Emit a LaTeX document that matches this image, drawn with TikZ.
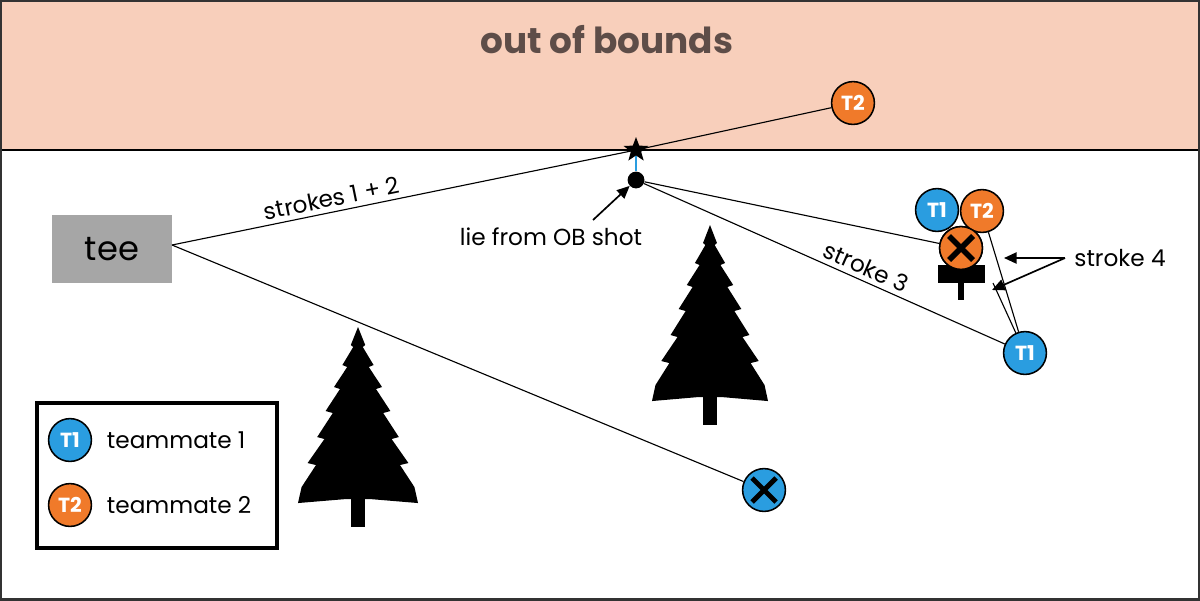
\documentclass[tikz,border=0pt]{standalone}
\usepackage{fontspec}
\setmainfont{Poppins}
\usetikzlibrary{shapes.geometric,arrows.meta,calc}
\definecolor{obfill}{HTML}{F8CFBB}
\definecolor{tblue}{HTML}{2A9DE0}
\definecolor{torange}{HTML}{F07A2A}
\definecolor{teegray}{HTML}{A6A6A6}
\definecolor{titlec}{HTML}{5E4D48}
\tikzset{
  disc/.style={circle,draw=black,line width=1.1pt,minimum size=1.07cm,inner sep=0pt,text=white,font=\fontsize{14.5}{14}\selectfont\bfseries},
  tone/.style={disc,fill=tblue},
  ttwo/.style={disc,fill=torange},
  lbl/.style={font=\fontsize{16.5}{19}\selectfont},
  ln/.style={line width=0.8pt},
  arr/.style={line width=1.2pt,-{Triangle[length=9pt,width=8pt]}},
  pics/tree/.style={code={
    \fill (-0.06,0.85) rectangle (0.06,1);
    \fill (0,0) -- (0.06,0.09) -- (0.04,0.1) -- (0.13,0.19) -- (0.09,0.2) -- (0.2,0.3) -- (0.15,0.31) -- (0.27,0.42) -- (0.21,0.43) -- (0.34,0.55) -- (0.28,0.56) -- (0.42,0.68) -- (0.35,0.69) -- (0.47,0.8) -- (0.5,0.88) -- (0.1,0.86) -- (-0.1,0.86) -- (-0.5,0.88) -- (-0.47,0.8) -- (-0.35,0.69) -- (-0.42,0.68) -- (-0.28,0.56) -- (-0.34,0.55) -- (-0.21,0.43) -- (-0.27,0.42) -- (-0.15,0.31) -- (-0.2,0.3) -- (-0.09,0.2) -- (-0.13,0.19) -- (-0.04,0.1) -- (-0.06,0.09) -- cycle;
  }}
}
\begin{document}
\begin{tikzpicture}[x=0.025cm,y=-0.025cm]
\useasboundingbox (0,0) rectangle (1200,600);
\fill[obfill] (0,0) rectangle (1200,150);
\draw[line width=1pt] (0,150) -- (1200,150);
\draw[line width=1.5pt,draw=black!80] (0.5,0.5) rectangle (1199.5,599.5);
\node[font=\fontsize{25.5}{30}\selectfont\bfseries,text=titlec] (title) at (607,40) {out of bounds};
% trees
\begin{scope}[shift={(358,327)},x=3cm,y=-5cm]\pic {tree};\end{scope}
\begin{scope}[shift={(710,225)},x=2.9cm,y=-5cm]\pic {tree};\end{scope}
% tee
\node[fill=teegray,minimum width=2.975cm,minimum height=1.7cm,font=\fontsize{24}{28}\selectfont] (tee) at (112,249) {tee};
\coordinate (teeR) at (172,245);
% nodes
\node[star,star points=5,star point ratio=2.4,fill=black,minimum size=0.65cm,inner sep=0pt] (star) at (636,150) {};
\node[circle,fill=black,minimum size=0.42cm,inner sep=0pt] (lie) at (636,180) {};
\node[ttwo] (t2ob) at (853,103) {T2};
\node[tone] (xa) at (764,490) {};
% basket
\fill (938,265) rectangle (985,283);
\fill (958,283) rectangle (964,300);
\node[ttwo] (bx) at (961,248) {};
\node[tone] (t1b) at (937,210) {T1};
\node[ttwo] (t2b) at (982,211) {T2};
\node[tone] (t1r) at (1025,353) {T1};
\coordinate (bk) at (993,283);
% lines
\draw[tblue,line width=1.5pt] (star) -- (lie);
\draw[ln] (teeR) -- node[lbl,sloped,above,pos=0.35] {strokes 1 + 2} (star.center) -- (t2ob);
\draw[ln] (teeR) -- (xa);
\draw[ln] (lie) -- (bx);
\draw[ln] (lie) -- node[lbl,sloped,above,pos=0.6] {stroke 3} (t1r);
\draw[ln] (t1r) -- (t2b);
\draw[ln] (t1r) -- (bk);
\node[ttwo] at (bx) {};
\draw[line width=4pt] (949,236) -- (973,260) (973,236) -- (949,260);
\draw[line width=3.5pt] (752,478) -- (776,502) (776,478) -- (752,502);
% labels
\node[lbl] (s4) at (1120,258) {stroke 4};
\coordinate (s4a) at (1065,258);
\draw[arr] (s4a) -- (1004,258);
\draw[arr] (s4a) -- (992,290);
\node[lbl] (lieT) at (551,237) {lie from OB shot};
\draw[arr] (593,220) -- (lie);
% legend
\draw[line width=2.5pt] (37,403) rectangle (277,548);
\node[tone] (l1) at (70,440) {T1};
\node[lbl,anchor=west] at (102,440) {teammate 1};
\node[ttwo] (l2) at (70,505) {T2};
\node[lbl,anchor=west] at (102,505) {teammate 2};
\end{tikzpicture}
\end{document}
